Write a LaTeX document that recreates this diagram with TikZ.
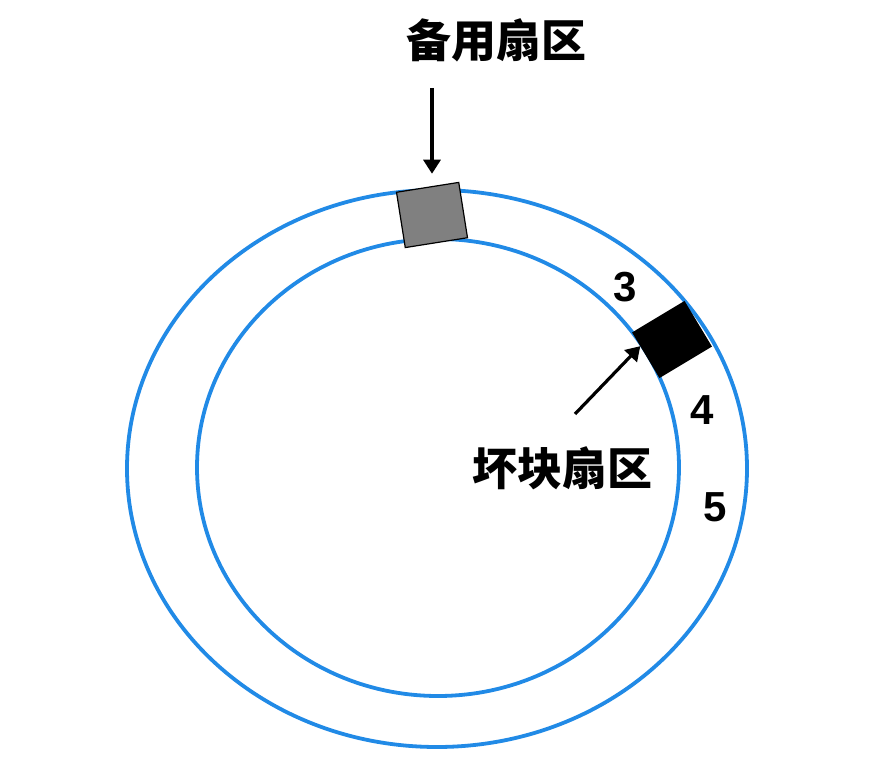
\documentclass[tikz,border=0pt]{standalone}
\usepackage{fontspec}
\setmainfont{Liberation Sans}
\newfontfamily\cjk{Noto Sans CJK SC}
\usetikzlibrary{arrows.meta,calc}
\definecolor{bleu}{RGB}{33,138,230}
\definecolor{gris}{RGB}{128,128,128}

\tikzset{piste/.style = {draw=bleu, line width=1.9pt},
         secteur/.style = {rectangle, draw, line width=0.6pt, fill=#1, inner sep=0pt},
         secteur/.default=gris,
         fleche/.style = {line width=1.6pt, -{Triangle[width=8.5pt,length=7pt]}},
         etiq/.style = {font=\cjk\bfseries\fontsize{22.5}{22.5}\selectfont},
         chiffre/.style = {font=\bfseries\fontsize{21}{21}\selectfont}
        }

\begin{document}
\begin{tikzpicture}[x=0.5pt,y=0.5pt]
  \useasboundingbox (0,0) rectangle (894,766);
  % pistes
  \draw[piste] (437,297.5) ellipse [x radius=310, y radius=278.5];
  \draw[piste] (438,298.5) ellipse [x radius=241, y radius=228.5];
  % secteurs
  \node[secteur, minimum width=31.5pt, minimum height=28pt, rotate=9] (spareBox) at (432,551) {};
  \node[secteur=black, minimum width=30pt, minimum height=26pt, rotate=31] (badBox) at (672,426.5) {};
  % textes
  \node[etiq] (spareLbl) at (496,726) {备用扇区};
  \node[etiq] (badLbl) at (562,298) {坏块扇区};
  \node[chiffre] (n3) at (625,479) {3};
  \node[chiffre] (n4) at (702,356) {4};
  \node[chiffre] (n5) at (715,259) {5};
  % fleches
  \coordinate (spareTail) at (432,678);
  \coordinate (badTail) at (575,352);
  \draw[fleche] (spareTail) -- ($(spareTail |- spareBox.north)+(0,13)$);
  \draw[fleche] (badTail) -- ($(badBox.north west)!0.3!(badBox.south west)$);
\end{tikzpicture}
\end{document}
